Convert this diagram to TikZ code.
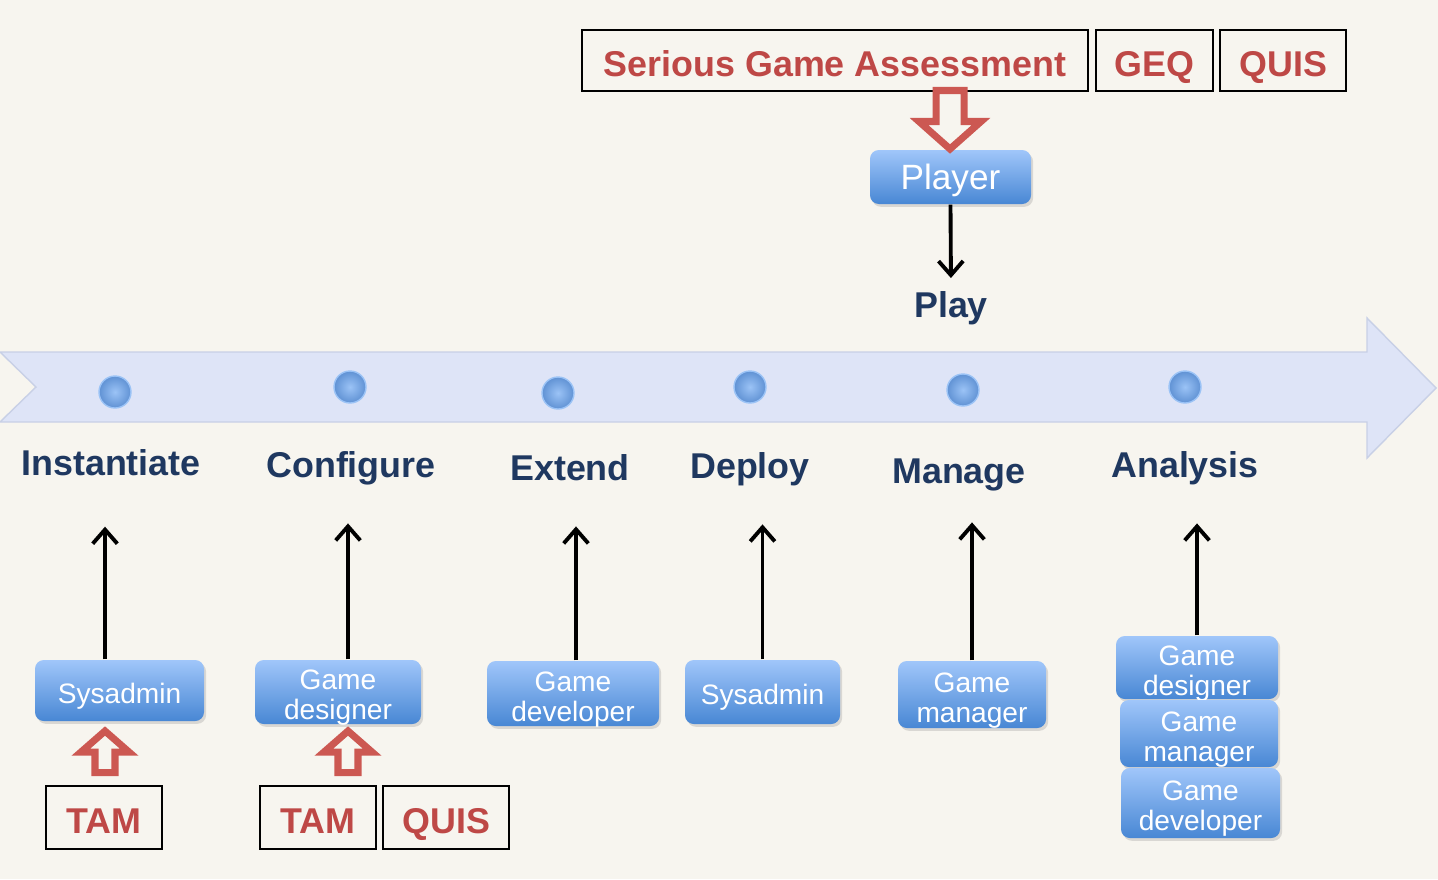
\documentclass[tikz,border=0pt]{standalone}
\usepackage{fontspec}
\setmainfont{Liberation Sans}
\usetikzlibrary{positioning,shadows,arrows.meta}
\definecolor{bgcream}{RGB}{247,245,239}
\definecolor{bandblue}{RGB}{222,228,247}
\definecolor{bandedge}{RGB}{200,208,230}
\definecolor{navy}{RGB}{31,56,96}
\definecolor{evalred}{RGB}{190,72,70}
\definecolor{arrowred}{RGB}{204,88,82}
\definecolor{roletop}{RGB}{160,198,250}
\definecolor{rolebot}{RGB}{72,135,212}
\definecolor{dotin}{RGB}{155,195,246}
\definecolor{dotout}{RGB}{96,146,212}
\newcommand{\rolename}[2]{\begin{tabular}[t]{@{}c@{}}#1\\#2\end{tabular}}

\begin{document}
\begin{tikzpicture}[
  >={Straight Barb[length=4pt,width=7pt]},
  stage/.style={anchor=base, inner sep=0pt, text depth=0.25em, text=navy,
    font=\fontsize{10.2}{12}\selectfont\bfseries},
  measure/.style={draw=black, line width=0.6pt, inner sep=0pt, text=evalred,
    minimum height=0.61cm, text height=0.9em, text depth=0pt,
    font=\fontsize{10.2}{12}\selectfont\bfseries},
  role/.style={rounded corners=2.5pt, top color=roletop, bottom color=rolebot,
    text=white, inner xsep=1pt, inner ysep=0pt, text height=0.72em, text depth=0pt,
    font=\fontsize{8}{8.6}\selectfont,
    drop shadow={opacity=0.25, shadow xshift=0.6pt, shadow yshift=-0.8pt}},
  twoline/.style={text depth=8.6pt},
  conn/.style={line width=1.1pt, ->, shorten >=10.5pt},
  hollow/.style={draw=arrowred, line width=2pt, fill=bgcream}
]
\useasboundingbox (0,0) rectangle (14.38,8.79);
\fill[bgcream] (0,0) rectangle (14.38,8.79);

% time line
\draw[fill=bandblue, draw=bandedge, thin] (0,5.27) -- (13.67,5.27) -- (13.67,5.61) -- (14.36,4.91)
  -- (13.67,4.21) -- (13.67,4.57) -- (0,4.57) -- (0.36,4.92) -- cycle;
\foreach \x/\y in {1.15/4.87, 3.50/4.92, 5.58/4.86, 7.50/4.92, 9.63/4.89, 11.85/4.92}
  \shadedraw[inner color=dotin, outer color=dotout, draw=dotin, thin] (\x,\y) circle (0.16);

% stages
\node[stage] (inst) at (1.11,4.04) {Instantiate};
\node[stage] (conf) at (3.51,4.02) {Configure};
\node[stage] (ext) at (5.70,3.99) {Extend};
\node[stage] (depl) at (7.50,4.01) {Deploy};
\node[stage] (mana) at (9.59,3.96) {Manage};
\node[stage] (anal) at (11.85,4.02) {Analysis};
\node[stage] (play) at (9.51,5.62) {Play};

% roles
\node[role, minimum width=1.61cm, minimum height=0.54cm, font=\fontsize{10}{11}\selectfont]
  (player) at (9.505,7.02) {Player};
\node[role, minimum width=1.69cm, minimum height=0.61cm] (sysA) at (1.195,1.885) {Sysadmin};
\node[role, twoline, minimum width=1.66cm, minimum height=0.64cm] (desA) at (3.38,1.87) {\rolename{Game}{designer}};
\node[role, twoline, minimum width=1.72cm, minimum height=0.65cm] (devA) at (5.73,1.855) {\rolename{Game}{developer}};
\node[role, minimum width=1.55cm, minimum height=0.64cm] (sysB) at (7.625,1.87) {Sysadmin};
\node[role, twoline, minimum width=1.48cm, minimum height=0.67cm] (manA) at (9.72,1.845) {\rolename{Game}{manager}};
\node[role, twoline, minimum width=1.62cm, minimum height=0.63cm] (desB) at (11.97,2.115) {\rolename{Game}{designer}};
\node[role, twoline, minimum width=1.58cm, minimum height=0.67cm] (manB) at (11.99,1.455) {\rolename{Game}{manager}};
\node[role, twoline, minimum width=1.59cm, minimum height=0.70cm] (devB) at (12.005,0.76) {\rolename{Game}{developer}};

% assessment instruments
\node[measure, minimum width=5.06cm] (sga) at (8.35,8.185) {Serious Game Assessment};
\node[measure, minimum width=1.17cm, right=0.06 of sga] (geqT) {GEQ};
\node[measure, minimum width=1.26cm, right=0.05 of geqT] (quisT) {QUIS};
\node[measure, minimum width=1.16cm, minimum height=0.63cm] (tamA) at (1.04,0.615) {TAM};
\node[measure, minimum width=1.16cm, minimum height=0.63cm] (tamB) at (3.18,0.615) {TAM};
\node[measure, minimum width=1.26cm, minimum height=0.63cm, right=0.05 of tamB] (quisB) {QUIS};

% hollow arrows
\draw[hollow] (9.36,7.885) -- (9.36,7.575) -- (9.19,7.575) -- (9.50,7.30) -- (9.81,7.575)
  -- (9.64,7.575) -- (9.64,7.885) -- cycle;
\foreach \x in {1.05,3.48}
  \draw[hollow] (\x-0.10,1.065) -- (\x-0.10,1.27) -- (\x-0.24,1.27) -- (\x,1.48)
    -- (\x+0.24,1.27) -- (\x+0.10,1.27) -- (\x+0.10,1.065) -- cycle;

% connectors
\draw[conn, shorten >=3.5pt] (player.south) -- (play.north);
\draw[conn, shorten >=12pt] ([xshift=-0.145cm]sysA.north) -- ([xshift=-0.145cm]sysA.north |- inst.south);
\draw[conn] ([xshift=0.10cm]desA.north) -- ([xshift=0.10cm]desA.north |- conf.south);
\draw[conn] ([xshift=0.03cm]devA.north) -- ([xshift=0.03cm]devA.north |- ext.south);
\draw[conn] (sysB.north) -- (sysB.north |- depl.south);
\draw[conn, shorten >=8.5pt] (manA.north) -- (manA.north |- mana.south);
\draw[conn] (desB.north) -- (desB.north |- anal.south);
\end{tikzpicture}
\end{document}
